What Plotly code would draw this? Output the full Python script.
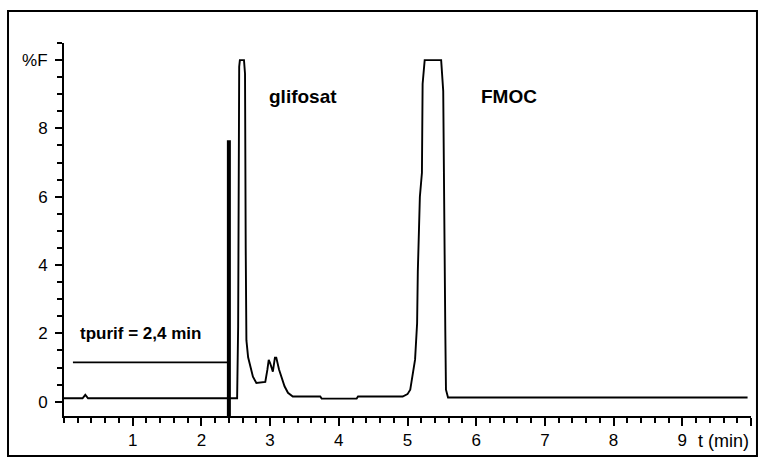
import plotly.graph_objects as go

# Chromatogram trace: time (min) and fluorescence signal (%F)
time_min = [0.0, 0.27, 0.31, 0.35, 2.52, 2.535, 2.55, 2.56, 2.62, 2.635, 2.645, 2.655,
            2.68, 2.72, 2.75, 2.80, 2.93, 2.96, 2.98, 3.00, 3.04, 3.07, 3.09, 3.13,
            3.17, 3.21, 3.26, 3.33, 3.73, 3.75, 4.26, 4.28, 4.93, 5.00, 5.04, 5.08,
            5.11, 5.14, 5.15, 5.18, 5.21, 5.22, 5.25, 5.49, 5.52, 5.55, 5.56, 5.59, 9.95]
signal = [0.10, 0.10, 0.20, 0.10, 0.10, 2.2, 9.8, 10.0, 10.0, 9.6, 4.5, 1.8,
          1.3, 1.0, 0.73, 0.55, 0.58, 0.93, 1.22, 1.13, 0.88, 1.29, 1.29, 0.94,
          0.70, 0.45, 0.26, 0.15, 0.15, 0.09, 0.09, 0.15, 0.15, 0.22, 0.35, 0.85,
          1.23, 2.3, 3.8, 6.0, 6.7, 9.3, 10.0, 10.0, 9.1, 2.1, 0.35, 0.12, 0.12]

# Purification time marker
t_purif = 2.4
purif_top = 7.65
purif_bottom = -0.76
purif_level = 1.15
purif_start = 0.13

# Axis ticks
y_tickvals = [0, 2, 4, 6, 8, 10]
y_ticktext = ["0", "2", "4", "6", "8", "%F"]
x_tickvals = [1, 2, 3, 4, 5, 6, 7, 8, 9, 10]
x_ticktext = ["1", "2", "3", "4", "5", "6", "7", "8", "9", ""]

# Peak labels
peak_labels = ["glifosat", "FMOC"]
peak_label_x = [3.48, 6.48]
peak_label_y = [8.92, 8.92]

FONT = "Liberation Sans, Arial, sans-serif"
x_range = [0, 10]
y_range = [-0.42, 10.5]

fig = go.Figure()

fig.add_trace(go.Scatter(
    x=time_min, y=signal, mode="lines",
    line=dict(color="black", width=1.9), hoverinfo="skip",
))

# horizontal level line ending at the purification time
fig.add_trace(go.Scatter(
    x=[purif_start, t_purif], y=[purif_level, purif_level], mode="lines",
    line=dict(color="black", width=1.9), hoverinfo="skip",
))

# thick vertical marker at t_purif
fig.add_trace(go.Scatter(
    x=[t_purif, t_purif], y=[y_range[0], purif_top], mode="lines",
    line=dict(color="black", width=4), hoverinfo="skip",
))
# stub of the marker continuing below the time axis
fig.add_trace(go.Scatter(
    x=[t_purif], y=[(y_range[0] + purif_bottom) / 2], mode="markers",
    marker=dict(symbol="line-ns", size=13, line=dict(color="black", width=4)),
    cliponaxis=False, hoverinfo="skip",
))

for txt, lx, ly in zip(peak_labels, peak_label_x, peak_label_y):
    fig.add_annotation(x=lx, y=ly, text=f"<b>{txt}</b>", showarrow=False,
                       font=dict(family=FONT, size=19, color="black"))

fig.add_annotation(x=1.12, y=2.0, text="<b>tpurif = 2,4 min</b>", showarrow=False,
                   font=dict(family=FONT, size=17, color="black"))

# axis title placed at the end of the time axis
fig.add_annotation(x=10, y=0, xref="x", yref="paper", xanchor="right", yanchor="top",
                   yshift=-13, text="t (min)", showarrow=False,
                   font=dict(family=FONT, size=18, color="black"))

# outer frame
fig.add_shape(type="rect", xref="paper", yref="paper",
              x0=-0.0815, x1=1.0087, y0=-0.107, y1=1.0858,
              line=dict(color="black", width=2), fillcolor="rgba(0,0,0,0)")

fig.update_xaxes(
    range=x_range, showgrid=False, zeroline=False,
    showline=True, linecolor="black", linewidth=2,
    tickmode="array", tickvals=x_tickvals, ticktext=x_ticktext,
    ticks="outside", ticklen=8, tickwidth=1.8, tickcolor="black",
    tickfont=dict(family=FONT, size=17, color="black"),
    minor=dict(tick0=0, dtick=0.2, ticks="outside", ticklen=5, tickwidth=1.8,
               tickcolor="black", showgrid=False),
)
fig.update_yaxes(
    range=y_range, showgrid=False, zeroline=False,
    showline=True, linecolor="black", linewidth=2,
    tickmode="array", tickvals=y_tickvals, ticktext=y_ticktext,
    ticks="outside", ticklen=7, tickwidth=1.8, tickcolor="black",
    ticklabelstandoff=4,
    tickfont=dict(family=FONT, size=17, color="black"),
    minor=dict(tick0=0, dtick=0.5, ticks="outside", ticklen=5, tickwidth=1.8,
               tickcolor="black", showgrid=False),
)

fig.update_layout(
    width=763, height=463,
    margin=dict(l=64, r=12, t=43, b=47),
    paper_bgcolor="white", plot_bgcolor="white",
    showlegend=False,
)

fig.write_html("out.html")
